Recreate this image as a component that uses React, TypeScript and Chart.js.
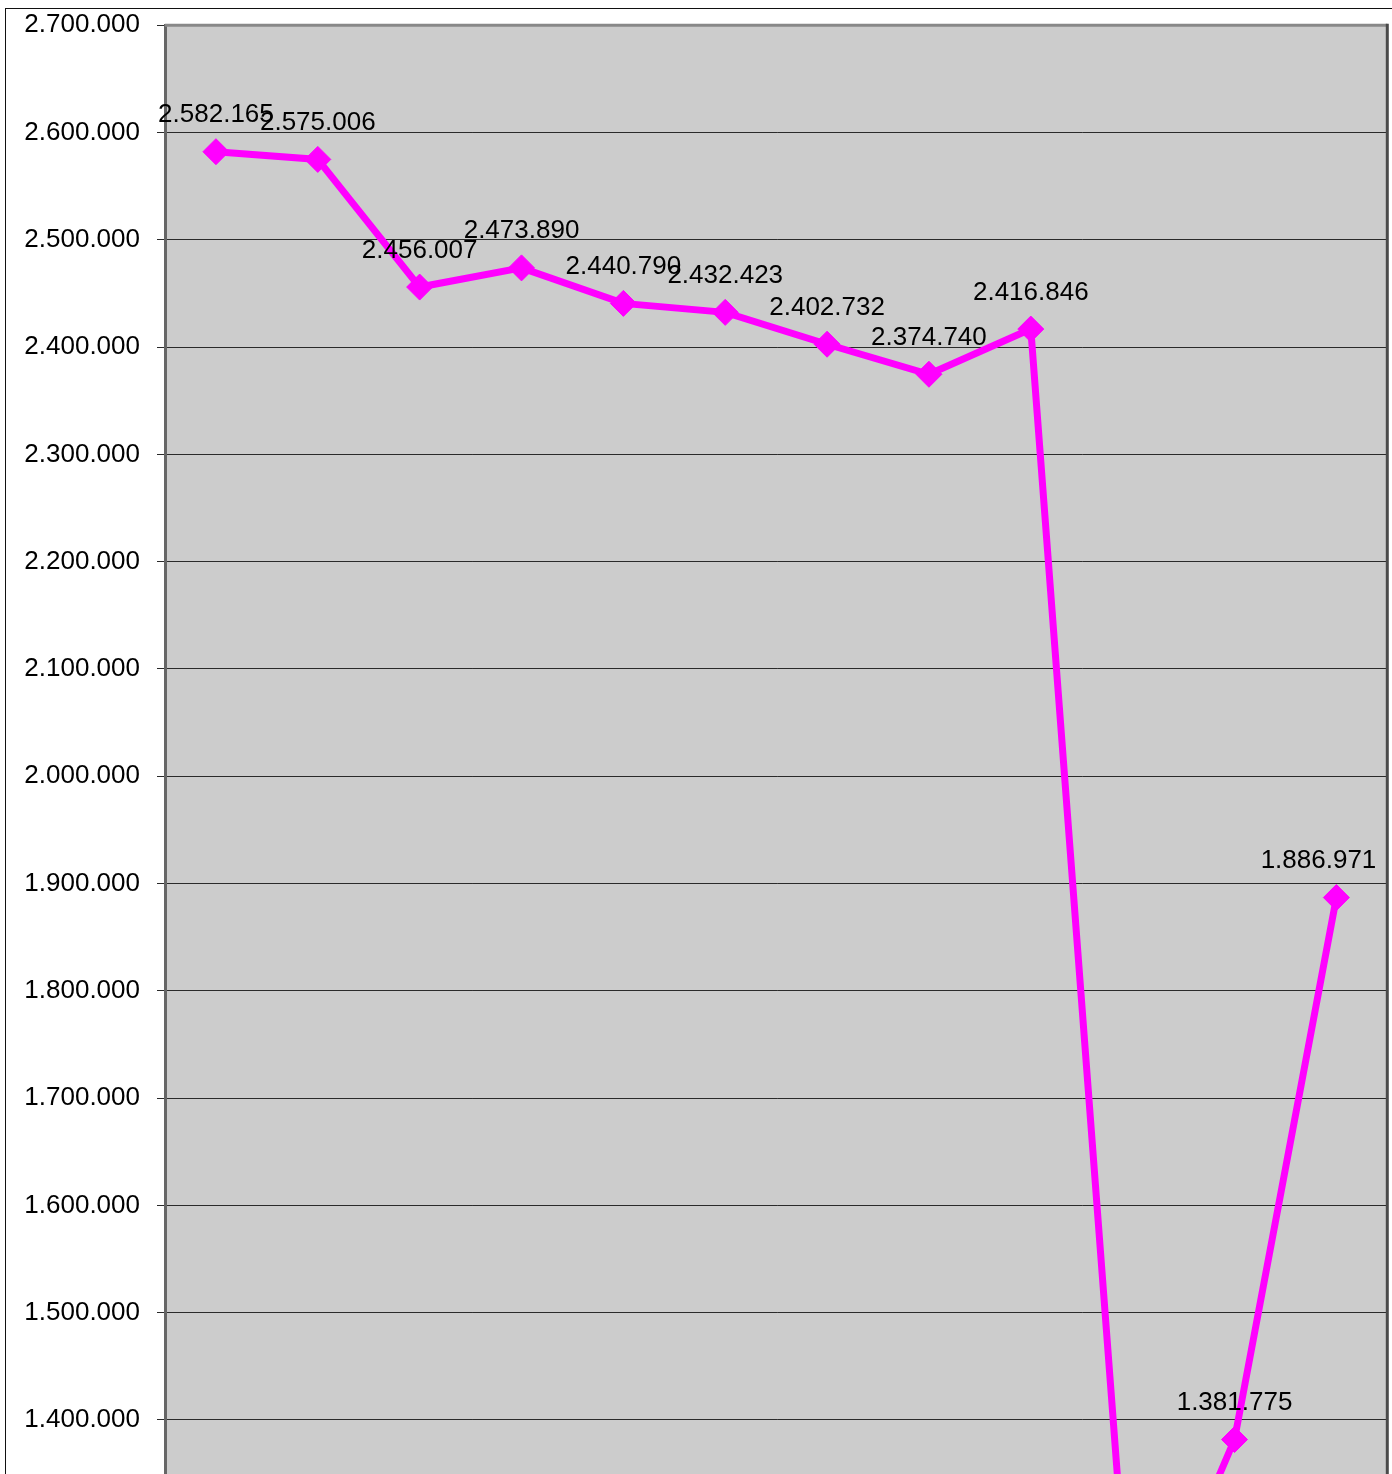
import { useEffect, useRef } from 'react';
import { Chart, registerables } from 'chart.js';

Chart.register(...registerables);

// Categories (their axis labels lie below the visible area of the reference)
const categories = ['1', '2', '3', '4', '5', '6', '7', '8', '9', '10', '11', '12'];
// Series values (point 10 lies below the visible area; estimated from the line slopes)
const values = [2582165, 2575006, 2456007, 2473890, 2440790, 2432423, 2402732, 2374740, 2416846, 1160000, 1381775, 1886971];
// Y axis range / tick step
const yMin = 1000000;
const yMax = 2700000;
const yStep = 100000;

function fmt(v: number): string {
  return String(Math.round(v)).replace(/\B(?=(\d{3})+(?!\d))/g, '.');
}

const FONT = "'Liberation Sans', Arial, Helvetica, sans-serif";
const FONT_SIZE = 26;
const CANVAS_W = 1418;
const CANVAS_H = 1958;
const TOP = 16.3;
const BOTTOM = 1840.1;
const RIGHT = 1381.3;
const AXIS_W = 159;

export default function App() {
  const ref = useRef<HTMLCanvasElement>(null);

  useEffect(() => {
    const canvas = ref.current;
    if (!canvas) return;

    const framePlugin = {
      id: 'plotFrame',
      beforeDraw(chart: any) {
        const { ctx, chartArea: a, width, height } = chart;
        ctx.save();
        ctx.fillStyle = '#ffffff';
        ctx.fillRect(0, 0, width, height);
        ctx.fillStyle = '#cccccc';
        ctx.fillRect(a.left, a.top, a.right - a.left, a.bottom - a.top);
        ctx.restore();
      },
      afterDatasetsDraw(chart: any) {
        const { ctx, chartArea: a } = chart;
        const meta = chart.getDatasetMeta(0);
        ctx.save();
        ctx.font = `${FONT_SIZE}px ${FONT}`;
        ctx.fillStyle = '#000000';
        ctx.textAlign = 'center';
        ctx.textBaseline = 'alphabetic';
        meta.data.forEach((pt: any, i: number) => {
          const txt = fmt(values[i]);
          const w = ctx.measureText(txt).width;
          let x = pt.x;
          const maxX = a.right - 11 - w / 2;
          if (x > maxX) x = maxX;
          ctx.fillText(txt, x, pt.y - 29.5);
        });
        ctx.restore();
      },
      afterDraw(chart: any) {
        const { ctx, chartArea: a } = chart;
        ctx.save();
        ctx.lineWidth = 3;
        ctx.strokeStyle = '#888888';
        ctx.beginPath();
        ctx.moveTo(a.left, a.top);
        ctx.lineTo(a.right, a.top);
        ctx.stroke();
        ctx.strokeStyle = '#4a4a4a';
        ctx.beginPath();
        ctx.moveTo(a.right, a.top - 1.5);
        ctx.lineTo(a.right, a.bottom);
        ctx.stroke();
        ctx.restore();
      },
    };

    const chart = new Chart(canvas, {
      type: 'line',
      data: {
        labels: categories,
        datasets: [
          {
            data: values,
            borderColor: '#ff00ff',
            backgroundColor: '#ff00ff',
            borderWidth: 7,
            pointStyle: 'rectRot',
            pointRadius: 13,
            pointHoverRadius: 13,
            pointBorderWidth: 1,
            pointBorderColor: '#ff00ff',
            pointBackgroundColor: '#ff00ff',
            tension: 0,
            fill: false,
          },
        ],
      },
      options: {
        responsive: false,
        animation: false,
        devicePixelRatio: 1,
        layout: {
          padding: { left: 0, top: TOP, right: CANVAS_W - RIGHT, bottom: CANVAS_H - BOTTOM },
        },
        plugins: {
          legend: { display: false },
          tooltip: { enabled: false },
        },
        scales: {
          x: {
            type: 'category',
            display: false,
            offset: true,
            grid: { display: false },
          },
          y: {
            min: yMin,
            max: yMax,
            afterFit(scale: any) {
              scale.width = AXIS_W;
              scale.paddingTop = 0;
              scale.paddingBottom = 0;
            },
            ticks: {
              stepSize: yStep,
              color: '#000000',
              padding: 17,
              font: { family: FONT, size: FONT_SIZE },
              callback: (v: any) => fmt(Number(v)),
            },
            grid: {
              color: '#2a2a2a',
              lineWidth: 1,
              tickLength: 8,
              drawTicks: true,
            },
            border: { display: true, color: '#666666', width: 3 },
          },
        },
      },
      plugins: [framePlugin],
    } as any);

    return () => chart.destroy();
  }, []);

  return (
    <div style={{ position: 'absolute', left: 0, top: 0, width: 1392, height: 1474, overflow: 'hidden' }}>
      <div
        style={{
          position: 'absolute',
          left: 5,
          top: 8,
          width: CANVAS_W + 2,
          height: CANVAS_H + 2,
          border: '1px solid #111',
          boxSizing: 'border-box',
          background: '#fff',
        }}
      >
        <canvas ref={ref} width={CANVAS_W} height={CANVAS_H} style={{ display: 'block' }} />
      </div>
    </div>
  );
}
